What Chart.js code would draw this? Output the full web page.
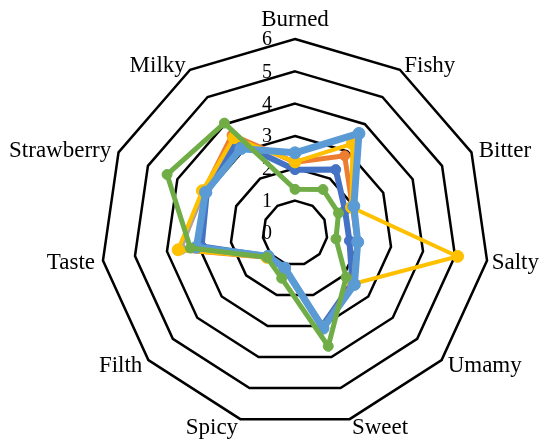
<!DOCTYPE html>
<html>
<head>
<meta charset="utf-8">
<script src="https://cdn.jsdelivr.net/npm/chart.js@4/dist/chart.umd.min.js"></script>
<style>
  html, body { margin: 0; padding: 0; background: #fff; }
  #wrap { width: 540px; height: 439px; }
</style>
</head>
<body>
<div id="wrap"><canvas id="radarChart"></canvas></div>
<script>
// Taste profile radar

const categories = ["Burned", "Fishy", "Bitter", "Salty", "Umamy", "Sweet", "Spicy", "Filth", "Taste", "Strawberry", "Milky"];
const tickValues = [0, 1, 2, 3, 4, 5, 6];

// series (top-most first)
const greenValues = [1.35, 1.6, 1.48, 1.28, 2.09, 3.65, 1.46, 1.15, 3.27, 4.35, 4.04];
const lightBlueValues = [2.48, 3.66, 2.0, 1.96, 2.43, 3.07, 1.13, 1.1, 3.08, 3.04, 3.1];
const yellowValues = [2.2, 3.28, 1.92, 5.08, 2.4, 3.05, 1.15, 1.15, 3.65, 3.15, 3.5];
const grayValues = [2.2, 3.3, 1.95, 1.95, 2.4, 3.05, 1.15, 1.15, 3.55, 3.1, 3.5];
const orangeValues = [2.19, 2.84, 1.95, 1.95, 2.38, 3.05, 1.15, 1.15, 3.62, 3.1, 3.6];
const darkBlueValues = [1.96, 2.33, 1.7, 1.7, 2.35, 3.0, 1.15, 1.1, 2.92, 3.0, 3.35];

function series(data, color, width, radius) {
  return {
    data: data,
    borderColor: color,
    backgroundColor: "transparent",
    borderWidth: width,
    fill: false,
    pointRadius: radius,
    pointBackgroundColor: color,
    pointBorderColor: color,
    pointBorderWidth: 1,
  };
}

// tick labels sit left of the vertical axis, like Excel draws them
const tickLabelPlugin = {
  id: "tickLabels",
  beforeDatasetsDraw(chart) {
    const scale = chart.scales.r;
    const ctx = chart.ctx;
    ctx.save();
    ctx.font = "20px 'Liberation Serif'";
    ctx.fillStyle = "#000";
    ctx.textAlign = "right";
    ctx.textBaseline = "middle";
    tickValues.forEach((v) => {
      const pos = scale.getPointPositionForValue(0, v);
      ctx.fillText(String(v), pos.x - 23, pos.y + 1);
    });
    ctx.restore();
  },
};

// category labels, placed just outside the outer ring
const categoryLabelPlugin = {
  id: "categoryLabels",
  beforeDatasetsDraw(chart) {
    const scale = chart.scales.r;
    const ctx = chart.ctx;
    ctx.save();
    ctx.font = "23px 'Liberation Serif'";
    ctx.fillStyle = "#000";
    ctx.textBaseline = "middle";
    categories.forEach((name, i) => {
      const p = scale.getPointPosition(i, scale.drawingArea + 8);
      const cx = Math.cos(p.angle);
      const cy = Math.sin(p.angle);
      let x = p.x;
      let y = p.y + 1 + 2 * Math.max(-cy, 0);
      if (Math.abs(cx) < 0.01) {
        ctx.textAlign = "center";
        y = p.y - 11;
      } else if (cx > 0) {
        ctx.textAlign = "left";
        // keep the label inside the canvas
        x = Math.min(x, chart.width - ctx.measureText(name).width - 1);
      } else {
        ctx.textAlign = "right";
      }
      ctx.fillText(name, x, y);
    });
    ctx.restore();
  },
};

new Chart(document.getElementById("radarChart"), {
  type: "radar",
  data: {
    labels: categories,
    datasets: [
      series(greenValues, "#70AD47", 5, 5),
      series(lightBlueValues, "#5B9BD5", 7, 6),
      series(yellowValues, "#FFC000", 4, 6),
      series(grayValues, "#A5A5A5", 3, 5),
      series(orangeValues, "#ED7D31", 5, 5),
      series(darkBlueValues, "#4472C4", 6, 5),
    ],
  },
  options: {
    responsive: true,
    maintainAspectRatio: false,
    animation: false,
    layout: {
      padding: { left: 101, right: 51, top: 39, bottom: 12 },
    },
    plugins: {
      legend: { display: false },
      tooltip: { enabled: false },
    },
    elements: {
      line: { tension: 0 },
    },
    scales: {
      r: {
        min: 0,
        max: 6,
        ticks: { display: false, stepSize: 1 },
        angleLines: { display: false },
        grid: { color: "#000", lineWidth: 2.5, circular: false },
        pointLabels: { display: false },
      },
    },
  },
  plugins: [tickLabelPlugin, categoryLabelPlugin],
});
</script>
</body>
</html>
